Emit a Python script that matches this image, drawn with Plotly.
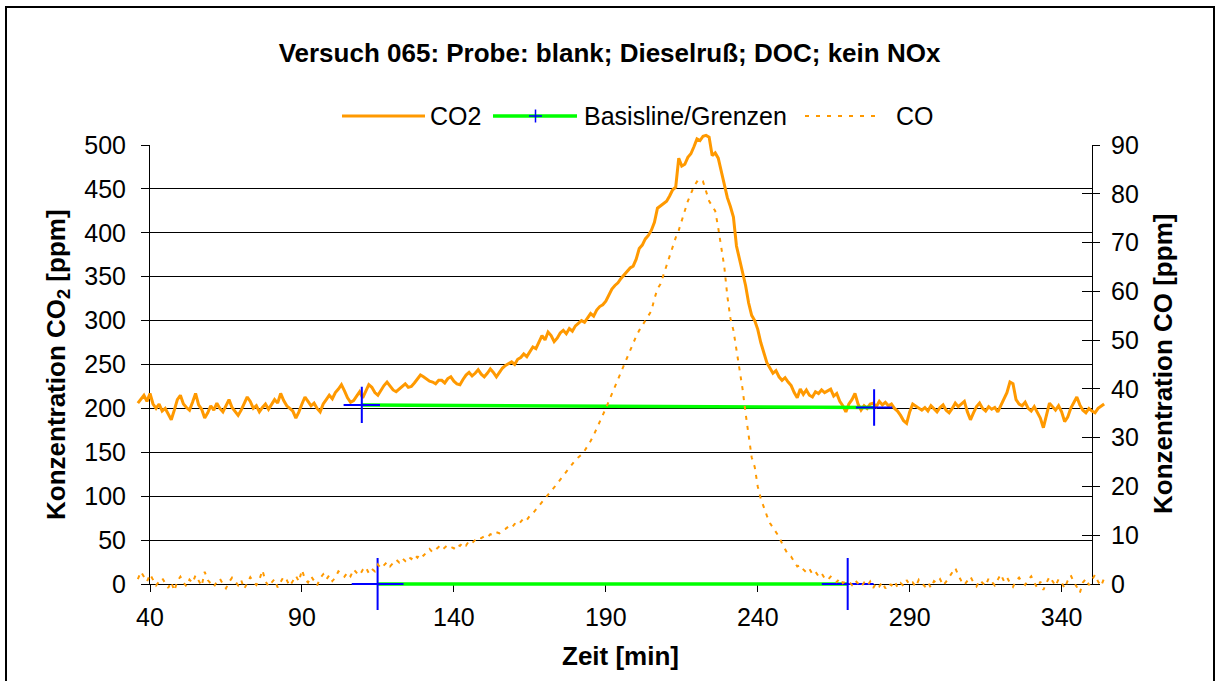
import plotly.graph_objects as go

# ---------------- data ----------------
time_min = list(range(36, 355))  # sample grid, 1 min

co2_ppm = [
    206, 210, 215, 208, 217, 205, 200, 205, 197, 200,
    193, 187, 198, 210, 215, 205, 201, 198, 207, 217,
    204, 199, 189, 195, 203, 198, 206, 200, 196, 203,
    210, 201, 197, 192, 198, 205, 213, 208, 200, 203,
    196, 201, 205, 199, 204, 210, 206, 217, 209, 203,
    200, 197, 189, 196, 205, 213, 208, 203, 206, 200,
    196, 205, 210, 215, 211, 218, 222, 227, 220, 212,
    207, 209, 214, 219, 212, 220, 227, 224, 218, 215,
    221, 226, 230, 226, 221, 219, 222, 225, 228, 224,
    225, 229, 233, 238, 236, 233, 231, 230, 228, 232,
    232, 229, 234, 236, 231, 228, 227, 233, 238, 241,
    237, 240, 244, 239, 236, 240, 245, 241, 236, 241,
    246, 249, 251, 253, 250, 256, 258, 262, 259, 265,
    270, 268, 276, 283, 278, 287, 283, 276, 280, 286,
    289, 285, 291, 288, 294, 297, 300, 298, 303, 308,
    305, 312, 316, 318, 322, 330, 336, 340, 343, 348,
    352, 357, 360, 362, 370, 382, 386, 393, 397, 403,
    412, 428, 431, 433, 436, 442, 449, 452, 485, 476,
    478, 486, 490, 498, 507, 505, 510, 511, 509, 488,
    491, 485, 470, 452, 440, 430, 418, 385, 370, 354,
    340, 320, 306, 300, 290, 275, 262, 252, 246, 240,
    243, 236, 232, 235, 230, 226, 218, 212, 222, 216,
    221, 215, 213, 219, 217, 221, 218, 220, 222, 214,
    217, 208, 203, 196, 205, 210, 217, 205, 198, 203,
    200, 205, 206, 202, 208, 204, 207, 203, 205, 200,
    197, 192, 186, 183, 196, 205, 203, 200, 198, 201,
    197, 203, 199, 196, 201, 204, 198, 195, 200, 206,
    202, 205, 208, 196, 187, 195, 202, 206, 200, 197,
    202, 199, 201, 196, 204, 210, 218, 230, 228, 210,
    205, 203, 207, 200, 197, 202, 195, 189, 178, 194,
    206, 202, 198, 203, 196, 185, 190, 200, 207, 213,
    204, 198, 195, 200, 197, 195, 200, 203, 205,
]

co_ppm = [
    1.0, 2.5, 1.5, 0.5, 2.0, 0.8, -0.3, 0.5, 1.2, 0.2,
    -0.8, 0.4, -1.4, 0.6, 1.5, 0.3, -0.5, 0.9, 0.2, 1.8,
    0.7, -0.4, 2.5, 0.8, 0.1, -0.6, 0.5, 1.1, 0.0, -0.9,
    0.4, 1.3, 0.6, -0.3, 0.8, -1.0, 0.2, 1.4, 0.5, -0.2,
    0.9, 2.8, 0.6, -0.5, 0.3, 1.0, -0.7, 0.4, 1.5, 0.8,
    -0.4, 0.6, 1.7, 0.5, 2.9, 1.0, 0.3, 1.6, 0.7, -0.3,
    1.2, 2.0, 0.9, 1.8, 0.6, 1.3, 2.6, 2.2, 1.5, 2.4,
    1.6, 3.0, 2.3, 1.8, 2.9, 3.5, 2.2, 3.1, 2.6, 4.0,
    3.2, 3.8, 4.5, 3.6, 4.2, 5.0, 4.4, 5.3, 4.7, 5.6,
    5.1, 6.0, 5.4, 6.3, 5.8, 6.6, 7.2, 6.5, 7.0, 7.6,
    6.9, 7.4, 8.0, 7.6, 7.3, 8.2, 7.8, 8.5, 7.9, 8.8,
    8.4, 9.0, 9.6, 9.4, 9.8, 9.5, 10.2, 10.0, 10.6, 10.4,
    11.0, 11.3, 11.8, 11.5, 12.3, 12.0, 12.8, 13.5, 13.1, 14.0,
    14.5, 15.3, 16.0, 16.8, 17.5, 18.3, 19.0, 19.8, 20.8, 21.5,
    22.4, 23.2, 24.0, 24.8, 25.4, 26.0, 26.5, 27.3, 28.2, 29.3,
    30.5, 31.8, 33.2, 34.6, 36.0, 37.5, 39.0, 40.4, 41.8, 43.5,
    45.0, 46.5, 48.0, 49.5, 50.8, 52.0, 53.0, 54.0, 55.0, 56.0,
    58.5, 60.5, 61.5, 63.5, 65.5, 67.5, 69.0, 71.0, 72.5, 74.5,
    77.0, 78.5, 80.0, 81.5, 82.5, 82.0, 82.5, 80.5, 78.5, 77.5,
    76.5, 73.0, 69.0, 65.0, 59.0, 54.5, 52.0, 48.0, 44.0, 40.0,
    35.0, 30.0, 26.0, 24.0, 20.0, 17.5, 15.5, 14.0, 12.5, 11.5,
    10.5, 9.7, 8.3, 7.0, 6.0, 5.6, 4.5, 3.6, 3.9, 3.0,
    2.4, 3.1, 2.0, 2.5, 1.6, 2.2, 1.2, 0.8, 1.5, 1.0,
    0.4, 1.2, 0.2, 0.6, 0.5, -0.2, 0.8, 0.1, -0.6, 0.3,
    -0.4, 0.5, -0.8, 0.2, -0.5, 0.4, -0.9, 0.1, -0.3, 0.6,
    -0.7, 0.2, -0.4, 0.8, -0.2, 0.3, -0.6, 0.9, 0.1, -0.5,
    0.4, -0.8, 0.6, 0.2, 1.0, -0.3, 0.5, 1.4, 2.2, 3.3,
    1.8, 0.6, -0.2, 0.7, 1.5, 0.3, -0.5, 0.8, 0.1, -0.4,
    1.2, 0.5, -0.3, 0.9, 2.0, 0.6, 1.4, 0.2, -0.6, 0.7,
    1.3, 0.4, -0.2, 0.9, 1.6, 0.3, -0.8, 0.5, -1.2, 0.2,
    1.5, 0.6, -0.4, 1.0, 0.3, -0.9, 0.7, 1.8, 0.4, -0.6,
    -1.8, 0.3, 1.1, -0.2, 0.8, 1.9, 0.5, -0.4, 1.2,
]

# baseline / limits (Basisline/Grenzen)
base_co2_t = [109.7, 278.3]
base_co2_v = [204, 201]
base_co_t = [114.9, 269.6]
base_co_v = [0, 0]

x_ticks = [40, 90, 140, 190, 240, 290, 340]
x_range = [40, 350]
co2_range = [0, 500]
co_range = [0, 90]

title = "Versuch 065: Probe: blank; Dieselruß; DOC; kein NOx"

# ---------------- layout geometry (pixels) ----------------
W, H = 1219, 681
ML, MR, MT, MB = 135, 112, 130, 82          # outer drawing area (with overshoot)
AX_L, AX_R, AX_T, AX_B = 150, 1092, 145, 584  # axes box
PW, PH = W - ML - MR, H - MT - MB


def px(X):
    return (X - ML) / PW


def py(Y):
    return (H - MB - Y) / PH


sx = (AX_R - AX_L) / (x_range[1] - x_range[0])
sy1 = (AX_B - AX_T) / (co2_range[1] - co2_range[0])
sy2 = (AX_B - AX_T) / (co_range[1] - co_range[0])
x2_range = [x_range[0] - (AX_L - ML) / sx, x_range[1] + (W - MR - AX_R) / sx]
y3_range = [co2_range[0] - (H - MB - AX_B) / sy1, co2_range[1] + (AX_T - MT) / sy1]
y4_range = [co_range[0] - (H - MB - AX_B) / sy2, co_range[1] + (AX_T - MT) / sy2]

FONT = "Arial, Liberation Sans, sans-serif"
ORANGE = "#FF9900"
GREEN = "#00FF00"
BLUE = "#0000FF"

fig = go.Figure()

# dummy traces so the visible axes render
for ya in ["y", "y2", "y5"]:
    fig.add_trace(go.Scatter(x=[None], y=[None], xaxis="x", yaxis=ya,
                             showlegend=False, hoverinfo="skip"))

fig.add_trace(go.Scatter(x=time_min, y=co2_ppm, xaxis="x2", yaxis="y3", mode="lines",
                         line=dict(color=ORANGE, width=3), name="CO2", showlegend=False))
fig.add_trace(go.Scatter(x=base_co2_t, y=base_co2_v, xaxis="x2", yaxis="y3", mode="lines+markers",
                         line=dict(color=GREEN, width=3.5),
                         marker=dict(symbol="cross-thin", size=26, color=BLUE,
                                     line=dict(color=BLUE, width=2)),
                         cliponaxis=False, name="Basisline/Grenzen", showlegend=False))
fig.add_trace(go.Scatter(x=base_co_t, y=base_co_v, xaxis="x2", yaxis="y4", mode="lines+markers",
                         line=dict(color=GREEN, width=3.5),
                         marker=dict(symbol="cross-thin", size=37, color=BLUE,
                                     line=dict(color=BLUE, width=2)),
                         cliponaxis=False, showlegend=False))
fig.add_trace(go.Scatter(x=time_min, y=co_ppm, xaxis="x2", yaxis="y4", mode="lines",
                         line=dict(color=ORANGE, width=2, dash="4px,6px"), name="CO",
                         showlegend=False))

tickfont = dict(family=FONT, size=25, color="black")
xdom = [px(AX_L), px(AX_R)]
ydom = [py(AX_B), py(AX_T)]

fig.update_layout(
    width=W, height=H,
    margin=dict(l=ML, r=MR, t=MT, b=MB, pad=0),
    paper_bgcolor="white", plot_bgcolor="rgba(0,0,0,0)",
    showlegend=False,
    title=dict(text=title, x=0.5, xref="container", xanchor="center",
               y=1 - 53 / H, yref="container", yanchor="middle",
               font=dict(family=FONT, size=26, color="black", weight="bold")),
    xaxis=dict(domain=xdom, anchor="y", range=x_range, tickvals=x_ticks,
               ticks="outside", ticklen=7, tickcolor="black", tickwidth=1,
               showline=True, linecolor="black", linewidth=1, showgrid=False,
               zeroline=False, tickfont=tickfont, ticklabelstandoff=4),
    yaxis=dict(domain=ydom, anchor="x", range=co2_range, dtick=50, tick0=0,
               ticks="outside", ticklen=8, tickcolor="black", tickwidth=1,
               showline=True, linecolor="black", linewidth=1,
               showgrid=True, gridcolor="black", gridwidth=1, zeroline=False,
               tickfont=tickfont, ticklabelstandoff=10),
    yaxis2=dict(overlaying="y", anchor="x", side="right", range=co_range, dtick=10, tick0=0,
                ticks="outside", ticklen=7, tickcolor="black", tickwidth=1,
                showline=True, linecolor="black", linewidth=1, showgrid=False,
                zeroline=False, tickfont=tickfont, ticklabelstandoff=6),
    yaxis5=dict(overlaying="y", anchor="x", side="right", range=co_range, dtick=10, tick0=0,
                ticks="inside", ticklen=10, tickcolor="black", tickwidth=1,
                showline=False, showgrid=False, zeroline=False, showticklabels=False),
    xaxis2=dict(domain=[0, 1], anchor="y3", range=x2_range, visible=False),
    yaxis3=dict(domain=[0, 1], anchor="x2", range=y3_range, visible=False),
    yaxis4=dict(overlaying="y3", anchor="x2", range=y4_range, visible=False),
)

shapes = []
annotations = []

# outer chart border
shapes.append(dict(type="rect", xref="paper", yref="paper",
                   x0=px(6), x1=px(1214), y0=py(700), y1=py(7),
                   line=dict(color="black", width=2), fillcolor="rgba(0,0,0,0)", layer="above"))

# manual legend
LY = 116
shapes.append(dict(type="line", xref="paper", yref="paper", x0=px(342), x1=px(425),
                   y0=py(LY), y1=py(LY), line=dict(color=ORANGE, width=3)))
shapes.append(dict(type="line", xref="paper", yref="paper", x0=px(493), x1=px(577),
                   y0=py(LY), y1=py(LY), line=dict(color=GREEN, width=3.5)))
shapes.append(dict(type="line", xref="paper", yref="paper", x0=px(529), x1=px(542),
                   y0=py(LY), y1=py(LY), line=dict(color=BLUE, width=1.5)))
shapes.append(dict(type="line", xref="paper", yref="paper", x0=px(535.5), x1=px(535.5),
                   y0=py(LY - 6.5), y1=py(LY + 6.5), line=dict(color=BLUE, width=1.5)))
shapes.append(dict(type="line", xref="paper", yref="paper", x0=px(805), x1=px(882),
                   y0=py(LY), y1=py(LY), line=dict(color=ORANGE, width=2, dash="4px,7px")))

legfont = dict(family=FONT, size=25, color="black")
for text, X in [("CO2", 428), ("Basisline/Grenzen", 582), ("CO", 894)]:
    annotations.append(dict(text=text, xref="paper", yref="paper", x=px(X), y=py(LY),
                            xanchor="left", yanchor="middle", showarrow=False, font=legfont))

# axis titles
tfont = dict(family=FONT, size=26, color="black", weight="bold")
annotations.append(dict(text="Konzentration CO<sub>2</sub> [ppm]", xref="paper", yref="paper",
                        x=px(57), y=py(365), xanchor="center", yanchor="middle",
                        textangle=-90, showarrow=False, font=tfont))
annotations.append(dict(text="Konzentration CO [ppm]", xref="paper", yref="paper",
                        x=px(1163), y=py(364), xanchor="center", yanchor="middle",
                        textangle=-90, showarrow=False, font=tfont))
annotations.append(dict(text="Zeit [min]", xref="paper", yref="paper",
                        x=px(620), y=py(656), xanchor="center", yanchor="middle",
                        showarrow=False, font=tfont))

fig.update_layout(shapes=shapes, annotations=annotations)

fig.write_html("out.html")
